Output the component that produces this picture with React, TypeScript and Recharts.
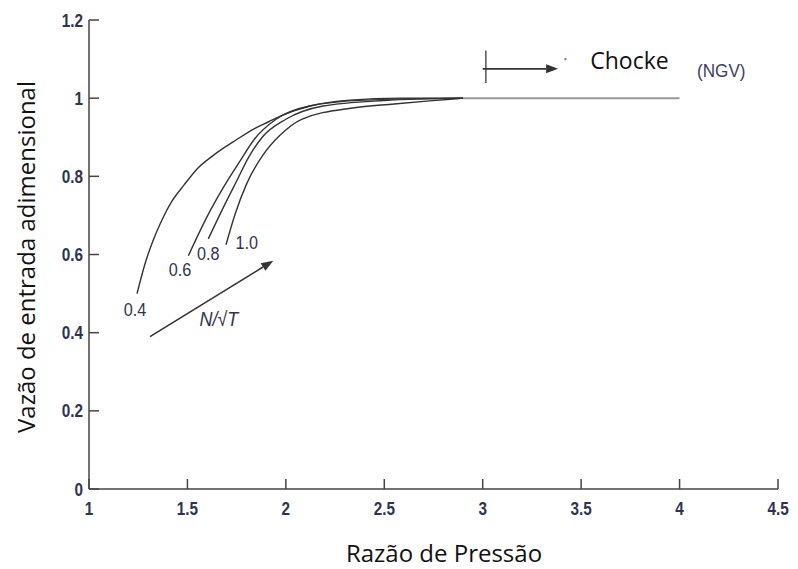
import React from "react";
import {
  LineChart,
  Line,
  XAxis,
  YAxis,
  ReferenceLine,
  ReferenceDot,
} from "recharts";

// Speed lines N/√T: pressure ratio vs. non-dimensional inlet flow
const speed04 = [
  { x: 1.244, y: 0.5 },
  { x: 1.285, y: 0.577 },
  { x: 1.325, y: 0.635 },
  { x: 1.371, y: 0.689 },
  { x: 1.422, y: 0.737 },
  { x: 1.483, y: 0.778 },
  { x: 1.549, y: 0.819 },
  { x: 1.635, y: 0.855 },
  { x: 1.732, y: 0.888 },
  { x: 1.843, y: 0.923 },
  { x: 1.91, y: 0.939 },
  { x: 1.996, y: 0.959 },
  { x: 2.123, y: 0.98 },
  { x: 2.326, y: 0.995 },
  { x: 2.58, y: 1.0 },
  { x: 2.9, y: 1.0 },
];
const speed06 = [
  { x: 1.505, y: 0.597 },
  { x: 1.598, y: 0.695 },
  { x: 1.682, y: 0.771 },
  { x: 1.767, y: 0.839 },
  { x: 1.84, y: 0.895 },
  { x: 1.95, y: 0.946 },
  { x: 2.12, y: 0.98 },
  { x: 2.4, y: 0.995 },
  { x: 2.9, y: 1.0 },
];
const speed08 = [
  { x: 1.606, y: 0.64 },
  { x: 1.682, y: 0.72 },
  { x: 1.75, y: 0.788 },
  { x: 1.81, y: 0.848 },
  { x: 1.88, y: 0.9 },
  { x: 2.0, y: 0.946 },
  { x: 2.19, y: 0.98 },
  { x: 2.5, y: 0.994 },
  { x: 2.9, y: 1.0 },
];
const speed10 = [
  { x: 1.696, y: 0.625 },
  { x: 1.742, y: 0.703 },
  { x: 1.8, y: 0.78 },
  { x: 1.886, y: 0.856 },
  { x: 1.97, y: 0.905 },
  { x: 2.08, y: 0.946 },
  { x: 2.34, y: 0.975 },
  { x: 2.55, y: 0.985 },
  { x: 2.73, y: 0.993 },
  { x: 2.9, y: 1.0 },
];
// Choked region: flow stays at 1
const choked = [
  { x: 2.9, y: 1.0 },
  { x: 4.0, y: 1.0 },
];

const xTicks = [1, 1.5, 2, 2.5, 3, 3.5, 4, 4.5];
const yTicks = [0, 0.2, 0.4, 0.6, 0.8, 1, 1.2];

const speedLabels = [
  { text: "0.4", x: 1.234, y: 0.457 },
  { text: "0.6", x: 1.462, y: 0.559 },
  { text: "0.8", x: 1.606, y: 0.6 },
  { text: "1.0", x: 1.801, y: 0.629 },
];

const INK = "#333";
const ARIAL = "'Liberation Sans', Arial, sans-serif";
const TITLE_FONT = "'Open Sans', 'Noto Sans', sans-serif";
const TICK_COLOR = "#2e3450";
const NARROW = 0.85;

const XTick = (props: any) => {
  const { x, y, payload } = props;
  return (
    <g>
      <line x1={x} y1={y} x2={x} y2={y - 10} stroke="#444" strokeWidth={1.5} />
      <text
        transform={`translate(${x},${y + 26}) scale(${NARROW},1)`}
        textAnchor="middle"
        fontFamily={ARIAL}
        fontSize={18}
        fontWeight={700}
        fill={TICK_COLOR}
      >
        {payload.value}
      </text>
    </g>
  );
};

const YTick = (props: any) => {
  const { x, y, payload } = props;
  return (
    <g>
      <line x1={x} y1={y} x2={x + 10} y2={y} stroke="#444" strokeWidth={1.5} />
      <text
        transform={`translate(${x - 6},${y + 6.5}) scale(${NARROW},1)`}
        textAnchor="end"
        fontFamily={ARIAL}
        fontSize={18}
        fontWeight={700}
        fill={TICK_COLOR}
      >
        {payload.value}
      </text>
    </g>
  );
};

const Arrow = (props: any) => {
  const { x1, y1, x2, y2 } = props;
  const ang = Math.atan2(y2 - y1, x2 - x1);
  const len = 12;
  const w = 4.5;
  const bx = x2 - len * Math.cos(ang);
  const by = y2 - len * Math.sin(ang);
  const px = -Math.sin(ang) * w;
  const py = Math.cos(ang) * w;
  return (
    <g>
      <line x1={x1} y1={y1} x2={bx} y2={by} stroke={INK} strokeWidth={1.6} />
      <polygon
        points={`${x2},${y2} ${bx + px},${by + py} ${bx - px},${by - py}`}
        fill={INK}
      />
    </g>
  );
};

const PlainSegment = (props: any) => {
  const { x1, y1, x2, y2 } = props;
  return <line x1={x1} y1={y1} x2={x2} y2={y2} stroke="#555" strokeWidth={1.5} />;
};

type TextOpts = {
  size: number;
  italic?: boolean;
  weight?: number;
  family?: string;
  color?: string;
  anchor?: string;
  baseline?: string;
  sx?: number;
};

const textShape = (text: string, opts: TextOpts) => (props: any) =>
  (
    <text
      transform={`translate(${props.cx},${props.cy}) scale(${opts.sx ?? 1},1)`}
      textAnchor={(opts.anchor as any) || "middle"}
      dominantBaseline={(opts.baseline as any) || "central"}
      fontFamily={opts.family || ARIAL}
      fontSize={opts.size}
      fontWeight={opts.weight || 400}
      fontStyle={opts.italic ? "italic" : "normal"}
      fill={opts.color || TICK_COLOR}
    >
      {text}
    </text>
  );

export default function App() {
  return (
    <div style={{ position: "absolute", left: 0, top: 0, background: "#fff" }}>
      <LineChart
        width={798}
        height={569}
        margin={{ top: 20, right: 20, bottom: 0, left: 0 }}
      >
        <XAxis
          type="number"
          dataKey="x"
          domain={[1, 4.5]}
          ticks={xTicks}
          allowDataOverflow
          height={80}
          tickSize={0}
          tickMargin={0}
          tickLine={false}
          tick={<XTick />}
          stroke="#444"
          strokeWidth={1.5}
          label={{
            value: "Razão de Pressão",
            content: () => (
              <text
                x={444}
                y={562}
                textAnchor="middle"
                fontFamily={TITLE_FONT}
                fontSize={24}
                fill="#111"
              >
                Razão de Pressão
              </text>
            ),
          }}
        />
        <YAxis
          type="number"
          domain={[0, 1.2]}
          ticks={yTicks}
          allowDataOverflow
          width={89}
          tickSize={0}
          tickMargin={0}
          tickLine={false}
          tick={<YTick />}
          stroke="#444"
          strokeWidth={1.5}
          label={{
            value: "Vazão de entrada adimensional",
            content: () => (
              <text
                transform="translate(25,257) rotate(-90)"
                textAnchor="middle"
                dominantBaseline="central"
                fontFamily={TITLE_FONT}
                fontSize={24}
                fill="#111"
              >
                Vazão de entrada adimensional
              </text>
            ),
          }}
        />

        <Line data={choked} dataKey="y" type="linear" stroke="#999" strokeWidth={2} dot={false} isAnimationActive={false} />
        <Line data={speed04} dataKey="y" type="monotone" stroke={INK} strokeWidth={1.4} dot={false} isAnimationActive={false} />
        <Line data={speed06} dataKey="y" type="monotone" stroke={INK} strokeWidth={1.4} dot={false} isAnimationActive={false} />
        <Line data={speed08} dataKey="y" type="monotone" stroke={INK} strokeWidth={1.4} dot={false} isAnimationActive={false} />
        <Line data={speed10} dataKey="y" type="monotone" stroke={INK} strokeWidth={1.4} dot={false} isAnimationActive={false} />

        {/* Increasing corrected speed arrow */}
        <ReferenceLine
          segment={[
            { x: 1.31, y: 0.39 },
            { x: 1.936, y: 0.584 },
          ]}
          shape={<Arrow />}
        />
        <ReferenceDot
          x={1.66}
          y={0.434}
          r={0}
          shape={textShape("N/√T", { size: 20, italic: true, sx: 0.9 })}
        />

        {speedLabels.map((l) => (
          <ReferenceDot
            key={l.text}
            x={l.x}
            y={l.y}
            r={0}
            shape={textShape(l.text, { size: 18, sx: 0.9 })}
          />
        ))}

        {/* Choke marker */}
        <ReferenceLine
          segment={[
            { x: 3.016, y: 1.122 },
            { x: 3.016, y: 1.039 },
          ]}
          shape={<PlainSegment />}
        />
        <ReferenceLine
          segment={[
            { x: 3.0, y: 1.075 },
            { x: 3.383, y: 1.075 },
          ]}
          shape={<Arrow />}
        />
        <ReferenceDot x={3.42} y={1.1} r={1.2} fill="#a07040" stroke="none" />
        <ReferenceDot
          x={3.546}
          y={1.074}
          r={0}
          shape={textShape("Chocke", {
            size: 23,
            family: TITLE_FONT,
            color: "#111",
            anchor: "start",
            baseline: "alphabetic",
          })}
        />
        <ReferenceDot
          x={4.089}
          y={1.054}
          r={0}
          shape={textShape("(NGV)", {
            size: 19,
            sx: 0.9,
            color: "#3a4060",
            anchor: "start",
            baseline: "alphabetic",
          })}
        />
      </LineChart>
    </div>
  );
}
